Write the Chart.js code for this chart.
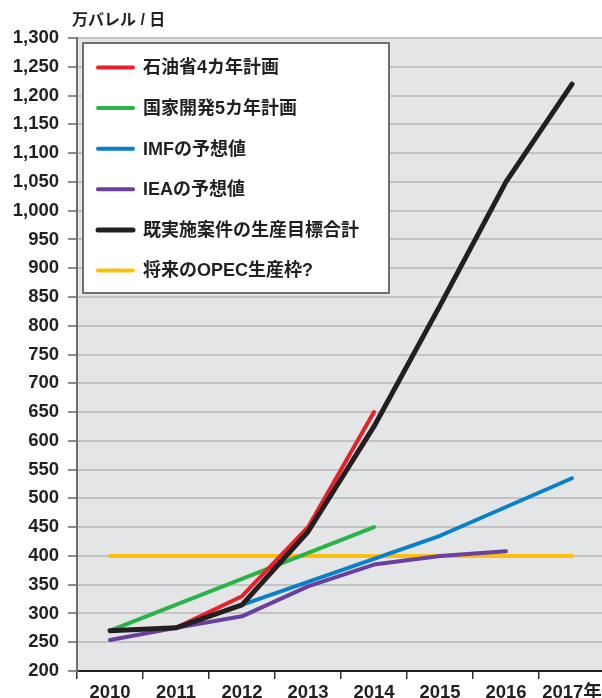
<!DOCTYPE html>
<html>
<head>
<meta charset="utf-8">
<script src="https://cdn.jsdelivr.net/npm/chart.js@4/dist/chart.umd.min.js"></script>
<style>
  html, body { margin: 0; padding: 0; background: #fff; overflow: hidden; }
  #wrap { width: 605px; height: 698px; }
</style>
</head>
<body>
<div id="wrap"><canvas id="chartProduccion" width="605" height="698"></canvas></div>
<script>
const anios = ["2010", "2011", "2012", "2013", "2014", "2015", "2016", "2017年"];
const etiquetasSeries = ["石油省4カ年計画", "国家開発5カ年計画", "IMFの予想値", "IEAの予想値", "既実施案件の生産目標合計", "将来のOPEC生産枠?"];
const plan4 = [null, 275, 330, 450, 650, null, null, null];
const plan5 = [270, null, null, null, 450, null, null, null];
const imf = [null, null, 315, 355, 395, 435, 485, 535];
const iea = [254, 275, 295, 347, 385, 400, 408, null];
const objetivo = [270, 275, 315, 442, 625, 835, 1050, 1220];
const opec = [400, 400, 400, 400, 400, 400, 400, 400];
const tituloEje = "万バレル / 日";

const colores = ["#e8202a", "#2db24a", "#0a80c8", "#6a3f9e", "#231f20", "#fcbf0f"];
const grosor = [4, 4, 4, 4, 5, 4];
const orden = [1, 2, 3, 4, 0, 5];
const valores = [plan4, plan5, imf, iea, objetivo, opec];

const fuente = '"Liberation Sans", "Noto Sans CJK JP", sans-serif';

/* fondo gris, titulo del eje y cuadro de leyenda */
const pluginFondo = {
  id: "fondo",
  beforeDraw(chart) {
    const { ctx, chartArea } = chart;
    ctx.save();
    ctx.fillStyle = "#e4e5e7";
    ctx.fillRect(chartArea.left, chartArea.top, chartArea.right - chartArea.left, chartArea.bottom - chartArea.top);
    ctx.restore();
  },
  afterDraw(chart) {
    const ctx = chart.ctx;
    ctx.save();
    // titulo
    ctx.fillStyle = "#231f20";
    ctx.font = "bold 16px " + fuente;
    ctx.textBaseline = "middle";
    ctx.fillText(tituloEje, 72, 21);
    // leyenda
    ctx.fillStyle = "#ffffff";
    ctx.fillRect(83, 43, 306, 250);
    ctx.strokeStyle = "#6f6f6f";
    ctx.lineWidth = 2;
    ctx.strokeRect(83, 43, 306, 250);
    ctx.lineCap = "round";
    chart.data.datasets.forEach((ds, i) => {
      const y = 67.5 + i * 40.6;
      ctx.strokeStyle = ds.borderColor;
      ctx.lineWidth = ds.borderWidth;
      ctx.beginPath();
      ctx.moveTo(98, y);
      ctx.lineTo(133, y);
      ctx.stroke();
      ctx.fillStyle = "#231f20";
      ctx.font = "bold 18px " + fuente;
      ctx.fillText(ds.label, 143, y + 1);
    });
    ctx.restore();
  },
};

const canvas = document.getElementById("chartProduccion");
const context = canvas.getContext("2d");

const chartProduccion = new Chart(context, {
  type: "line",
  data: {
    labels: anios,
    datasets: valores.map((serie, i) => ({
      label: etiquetasSeries[i],
      data: serie,
      borderColor: colores[i],
      backgroundColor: colores[i],
      borderWidth: grosor[i],
      borderCapStyle: "round",
      borderJoinStyle: "round",
      pointRadius: 0,
      tension: 0,
      spanGaps: true,
      order: orden[i],
    })),
  },
  options: {
    responsive: false,
    animation: false,
    devicePixelRatio: 1,
    layout: { padding: { top: 38, left: 0, right: 0, bottom: 0 } },
    plugins: { legend: { display: false }, tooltip: { enabled: false } },
    scales: {
      x: {
        offset: true,
        grid: { offset: true, drawOnChartArea: false, color: "#333", tickLength: 8, lineWidth: 1.5 },
        border: { color: "#222", width: 2 },
        ticks: { color: "#231f20", font: { family: fuente, size: 18.5, weight: "bold" }, padding: 3, maxRotation: 0 },
        afterFit(scale) { scale.height = 27; },
      },
      y: {
        min: 200,
        max: 1300,
        ticks: {
          stepSize: 50,
          color: "#231f20",
          padding: 9,
          font: { family: fuente, size: 18.5, weight: "bold" },
          callback: (v) => v.toLocaleString("en-US"),
        },
        grid: { color: "#c3c3c3", lineWidth: 2, tickColor: "#666", tickLength: 9, tickWidth: 1.5 },
        border: { color: "#6e6e6e", width: 2 },
        afterFit(scale) { scale.width = 77; },
      },
    },
  },
  plugins: [pluginFondo],
});
</script>
</body>
</html>
